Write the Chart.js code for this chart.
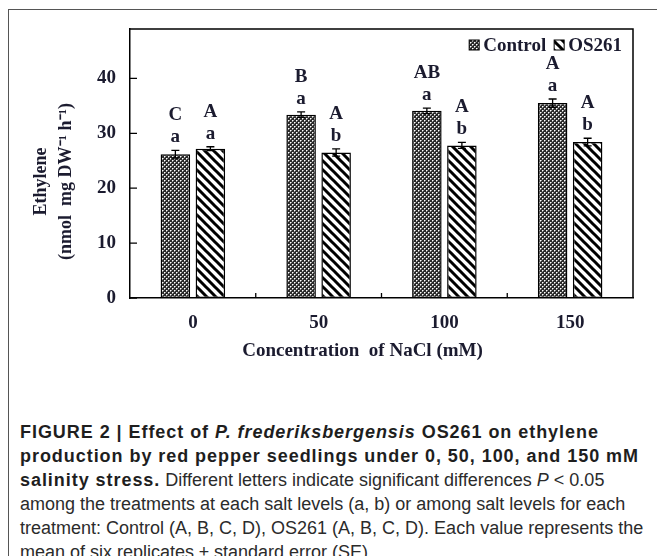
<!DOCTYPE html>
<html>
<head>
<meta charset="utf-8">
<script src="https://cdn.jsdelivr.net/npm/chart.js@4"></script>
<style>
  html, body { margin: 0; padding: 0; background: #fff; width: 657px; height: 556px; overflow: hidden; }
  #frame { position: absolute; left: 8px; top: 9px; width: 660px; height: 560px; border-left: 1px solid #555; border-top: 1px solid #555; }
  #wrap { position: absolute; left: 0; top: 0; width: 657px; height: 380px; }
  #caption { position: absolute; left: 20px; top: 420px; font-family: "Liberation Sans", Arial, sans-serif; font-size: 18px; line-height: 24px; color: #2b2b2b; white-space: nowrap; }
  #caption b { color: #1e1e1e; letter-spacing: 0.95px; }
</style>
</head>
<body>
<div id="frame"></div>
<div id="wrap"><canvas id="c" width="657" height="380"></canvas></div>
<div id="caption"><b>FIGURE 2 | Effect of <i>P. frederiksbergensis</i> OS261 on ethylene<br>production by red pepper seedlings under 0, 50, 100, and 150 mM<br>salinity stress.</b> Different letters indicate significant differences <i>P</i> &lt; 0.05<br>among the treatments at each salt levels (a, b) or among salt levels for each<br>treatment: Control (A, B, C, D), OS261 (A, B, C, D). Each value represents the<br>mean of six replicates ± standard error (SE).</div>
<script>
const categories = ['0', '50', '100', '150'];
const controlValues = [26.2, 33.4, 34.1, 35.5];
const os261Values = [27.2, 26.5, 27.8, 28.4];
const controlSE = [0.7, 0.5, 0.5, 0.75];
const os261SE = [0.35, 0.65, 0.55, 0.7];
const controlUpper = ['C', 'B', 'AB', 'A'];
const controlLower = ['a', 'a', 'a', 'a'];
const os261Upper = ['A', 'A', 'A', 'A'];
const os261Lower = ['a', 'b', 'b', 'b'];
const yTicks = [0, 10, 20, 30, 40];

const INK = '#1b1b2f';
const SERIF = '"Liberation Serif", "Times New Roman", serif';

function makeCheckPattern() {
  const c = document.createElement('canvas');
  c.width = 4; c.height = 4;
  const g = c.getContext('2d');
  g.fillStyle = '#2a2a2a'; g.fillRect(0, 0, 4, 4);
  g.fillStyle = '#ffffff';
  g.fillRect(0, 0, 1, 1); g.fillRect(2, 2, 1, 1);
  g.fillStyle = '#9a9a9a';
  g.fillRect(1, 0, 1, 1); g.fillRect(0, 1, 1, 1); g.fillRect(3, 2, 1, 1); g.fillRect(2, 3, 1, 1);
  return g.createPattern(c, 'repeat');
}
function makeStripePattern() {
  const s = 9;
  const c = document.createElement('canvas');
  c.width = s; c.height = s;
  const g = c.getContext('2d');
  g.fillStyle = '#ffffff'; g.fillRect(0, 0, s, s);
  g.strokeStyle = '#000000'; g.lineWidth = 3;
  g.beginPath();
  g.moveTo(-s, 0); g.lineTo(s, 2 * s);
  g.moveTo(0, 0); g.lineTo(s, s);
  g.moveTo(0, -s); g.lineTo(2 * s, s);
  g.stroke();
  return g.createPattern(c, 'repeat');
}

const seData = [controlSE, os261SE];
const upperData = [controlUpper, os261Upper];
const lowerData = [controlLower, os261Lower];

const decorPlugin = {
  id: 'decor',
  afterDatasetsDraw(chart) {
    const ctx = chart.ctx;
    const ys = chart.scales.y, xs = chart.scales.x;
    const a = chart.chartArea;
    ctx.save();
    // error bars and letters
    chart.data.datasets.forEach((ds, di) => {
      const meta = chart.getDatasetMeta(di);
      meta.data.forEach((bar, i) => {
        const v = ds.data[i], se = seData[di][i];
        const yt = ys.getPixelForValue(v + se), yb = ys.getPixelForValue(v - se);
        const x = bar.x;
        ctx.strokeStyle = '#000'; ctx.lineWidth = 1.3;
        ctx.beginPath();
        ctx.moveTo(x, yt); ctx.lineTo(x, yb);
        ctx.moveTo(x - 4, yt); ctx.lineTo(x + 4, yt);
        ctx.moveTo(x - 4, yb); ctx.lineTo(x + 4, yb);
        ctx.stroke();
        ctx.fillStyle = INK;
        ctx.textAlign = 'center'; ctx.textBaseline = 'middle';
        ctx.font = 'bold 19px ' + SERIF;
        ctx.fillText(lowerData[di][i], x, yt - 13);
        ctx.fillText(upperData[di][i], x, yt - 35);
      });
    });
    // plot frame top/right
    ctx.strokeStyle = '#000'; ctx.lineWidth = 1.5;
    ctx.beginPath();
    ctx.moveTo(a.left, a.top); ctx.lineTo(a.right, a.top); ctx.lineTo(a.right, a.bottom);
    ctx.stroke();
    // inward y ticks
    ctx.lineWidth = 1.3;
    ctx.beginPath();
    yTicks.forEach(t => {
      const y = ys.getPixelForValue(t);
      ctx.moveTo(a.left, y); ctx.lineTo(a.left + 7, y);
    });
    // x ticks at category boundaries
    for (let i = 1; i < categories.length; i++) {
      const x = (xs.getPixelForValue(i - 1) + xs.getPixelForValue(i)) / 2;
      ctx.moveTo(x, a.bottom); ctx.lineTo(x, a.bottom - 5);
    }
    ctx.stroke();
    // legend, top-right inside the plot area
    ctx.font = 'bold 19px ' + SERIF;
    ctx.textAlign = 'left'; ctx.textBaseline = 'middle';
    const ly = a.top + 16;
    let xr = a.right - 11;
    const items = chart.data.datasets.map(d => ({ label: d.label, fill: d.backgroundColor }));
    for (let k = items.length - 1; k >= 0; k--) {
      const w = ctx.measureText(items[k].label).width;
      const tx = xr - w;
      const bx = tx - 14;
      ctx.fillStyle = items[k].fill;
      ctx.fillRect(bx, ly - 5, 10, 10);
      ctx.strokeStyle = '#000'; ctx.lineWidth = 1;
      ctx.strokeRect(bx, ly - 5, 10, 10);
      ctx.fillStyle = INK;
      ctx.fillText(items[k].label, tx, ly + 1);
      xr = bx - 8;
    }
    ctx.restore();
  }
};

new Chart(document.getElementById('c'), {
  type: 'bar',
  data: {
    labels: categories,
    datasets: [
      { label: 'Control', data: controlValues, backgroundColor: makeCheckPattern(), borderColor: '#000', borderWidth: 1.5, borderSkipped: false },
      { label: 'OS261', data: os261Values, backgroundColor: makeStripePattern(), borderColor: '#000', borderWidth: 1.5, borderSkipped: false }
    ]
  },
  options: {
    responsive: false,
    animation: false,
    devicePixelRatio: 1,
    layout: { padding: { left: 0, right: 24, top: 29, bottom: 0 } },
    datasets: { bar: { categoryPercentage: 0.557, barPercentage: 0.843 } },
    plugins: {
      tooltip: { enabled: false },
      legend: { display: false }
    },
    scales: {
      x: {
        grid: { display: false, drawTicks: false },
        border: { display: true, color: '#000', width: 1.5 },
        ticks: { color: INK, padding: 14, font: { family: SERIF, weight: 'bold', size: 19 } },
        title: { display: true, text: 'Concentration  of NaCl (mM)\u00a0\u00a0\u00a0\u00a0\u00a0\u00a0\u00a0\u00a0', color: INK, padding: { top: 0, bottom: 18 }, font: { family: SERIF, weight: 'bold', size: 19 } },
        afterFit(s) { s.height = 82; }
      },
      y: {
        min: 0, max: 49,
        grid: { display: false, drawTicks: false },
        border: { display: true, color: '#000', width: 1.5 },
        ticks: { stepSize: 10, includeBounds: false, color: INK, padding: 14, font: { family: SERIF, weight: 'bold', size: 19 } },
        title: { display: true, text: ['Ethylene\u00a0\u00a0\u00a0\u00a0\u00a0\u00a0\u00a0\u00a0', '(nmol  mg DW\u207B\u00B9 h\u207B\u00B9)\u00a0\u00a0\u00a0\u00a0\u00a0\u00a0\u00a0\u00a0'], color: INK, padding: { top: 29, bottom: 0 }, font: { family: SERIF, weight: 'bold', size: 18, lineHeight: 1.4 } },
        afterFit(s) { s.width = 130; }
      }
    }
  },
  plugins: [decorPlugin]
});
</script>
</body>
</html>
